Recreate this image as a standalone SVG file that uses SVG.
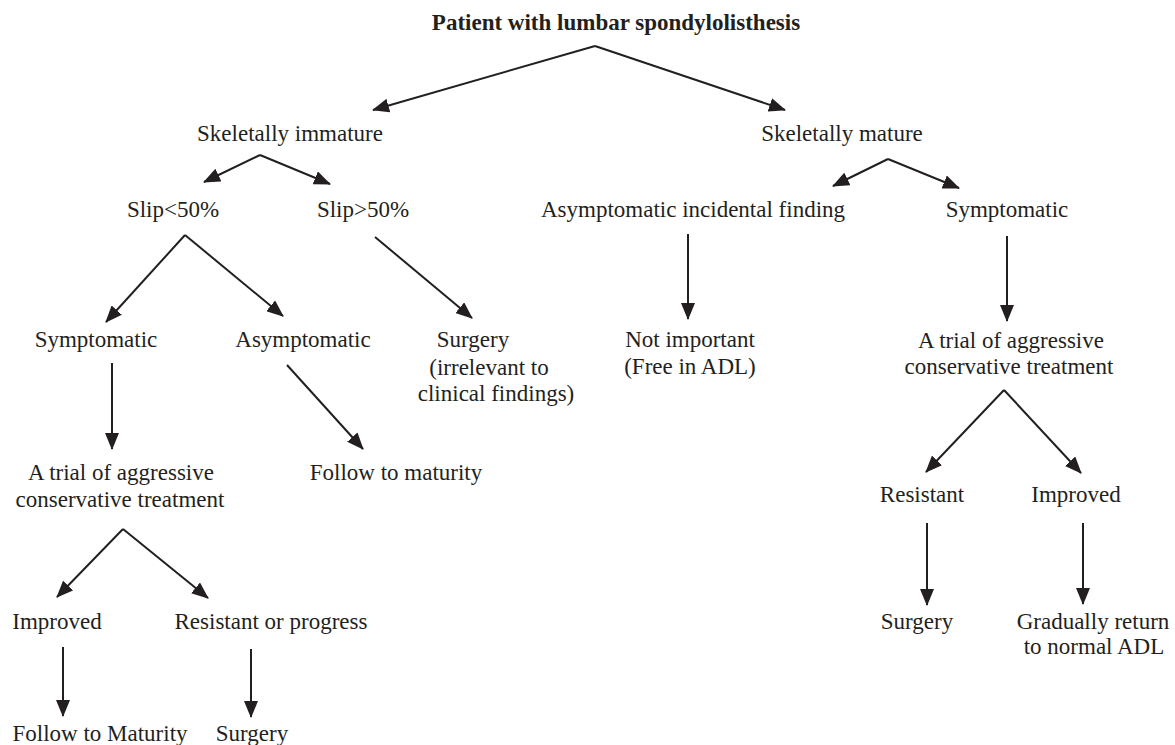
<svg xmlns="http://www.w3.org/2000/svg" width="1175" height="745" viewBox="0 0 1175 745">
<style>
text{font-family:"Liberation Serif","Times New Roman",serif;font-size:23px;fill:#231f20;text-anchor:middle}
.title{font-weight:bold}
.c line{stroke:#231f20;stroke-width:2;marker-end:url(#ah)}
</style>
<defs>
<marker id="ah" markerUnits="userSpaceOnUse" markerWidth="17" markerHeight="14" refX="16" refY="7" orient="auto"><path d="M0,0 L17,7 L0,14 Z" fill="#231f20"/></marker>
</defs>
<rect width="1175" height="745" fill="#fff"/>
<g class="c" id="connectors">
<line x1="595" y1="46" x2="373" y2="110"/>
<line x1="595" y1="46" x2="785" y2="110"/>
<line x1="260" y1="155" x2="204" y2="182"/>
<line x1="260" y1="155" x2="330" y2="184"/>
<line x1="888" y1="159" x2="833" y2="186"/>
<line x1="888" y1="159" x2="959" y2="188"/>
<line x1="185" y1="235" x2="106" y2="322"/>
<line x1="185" y1="235" x2="283" y2="316"/>
<line x1="375" y1="237" x2="472" y2="318"/>
<line x1="688" y1="234" x2="688" y2="319"/>
<line x1="1007" y1="236" x2="1007" y2="321"/>
<line x1="112" y1="363" x2="112" y2="449"/>
<line x1="287" y1="365" x2="363" y2="449"/>
<line x1="123" y1="529" x2="57" y2="597"/>
<line x1="123" y1="529" x2="208" y2="598"/>
<line x1="63" y1="647" x2="63" y2="716"/>
<line x1="251" y1="649" x2="251" y2="717"/>
<line x1="1004" y1="390" x2="926" y2="472"/>
<line x1="1004" y1="390" x2="1081" y2="473"/>
<line x1="927" y1="523" x2="927" y2="605"/>
<line x1="1083" y1="523" x2="1083" y2="604"/>
</g>
<g id="n-root"><text class="title" x="616" y="30">Patient with lumbar spondylolisthesis</text></g>
<g id="n-immature"><text x="290" y="141">Skeletally immature</text></g>
<g id="n-mature"><text x="842" y="141">Skeletally mature</text></g>
<g id="n-slip-lt"><text x="173" y="217">Slip&lt;50%</text></g>
<g id="n-slip-gt"><text x="363" y="217">Slip&gt;50%</text></g>
<g id="n-asym-inc"><text x="693" y="217">Asymptomatic incidental finding</text></g>
<g id="n-sym-r"><text x="1007" y="217">Symptomatic</text></g>
<g id="n-sym-l"><text x="96" y="347">Symptomatic</text></g>
<g id="n-asym-l"><text x="303" y="347">Asymptomatic</text></g>
<g id="n-surg-gt"><text x="473" y="347">Surgery</text><text x="489" y="375">(irrelevant to</text><text x="496" y="401">clinical findings)</text></g>
<g id="n-notimp"><text x="690" y="347">Not important</text><text x="690" y="374">(Free in ADL)</text></g>
<g id="n-trial-r"><text x="1011" y="348">A trial of aggressive</text><text x="1009" y="374">conservative treatment</text></g>
<g id="n-trial-l"><text x="121" y="480">A trial of aggressive</text><text x="120" y="507">conservative treatment</text></g>
<g id="n-follow"><text x="396" y="480">Follow to maturity</text></g>
<g id="n-improved-l"><text x="57" y="629">Improved</text></g>
<g id="n-resist-l"><text x="271" y="629">Resistant or progress</text></g>
<g id="n-follow-m"><text x="100" y="741">Follow to Maturity</text></g>
<g id="n-surg-l"><text x="252" y="741">Surgery</text></g>
<g id="n-resist-r"><text x="922" y="502">Resistant</text></g>
<g id="n-improved-r"><text x="1076" y="502">Improved</text></g>
<g id="n-surg-r"><text x="917" y="629">Surgery</text></g>
<g id="n-gradual"><text x="1093" y="629">Gradually return</text><text x="1094" y="654">to normal ADL</text></g>
</svg>
